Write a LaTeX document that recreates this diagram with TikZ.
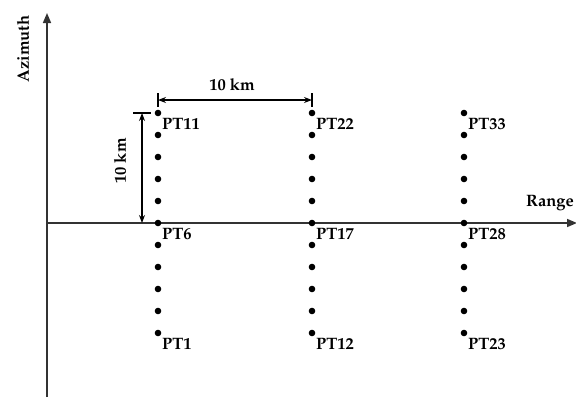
\documentclass[tikz,border=0pt]{standalone}
\usepackage[T1]{fontenc}
\usepackage{mathpazo}
\usetikzlibrary{arrows.meta}
\begin{document}
\begin{tikzpicture}[x=1pt,y=-1pt,
  lbl/.style={font=\fontsize{16.5}{19}\selectfont\bfseries, inner sep=0pt},
  dot/.style={circle,fill=black,inner sep=0pt,minimum size=6.6pt},
  axis/.style={line width=1.5pt, draw=black!80, -{Triangle[length=10pt,width=8pt]}},
  dim/.style={line width=1.2pt, {Stealth[length=8pt,width=6pt]}-{Stealth[length=8pt,width=6pt]}},
  tick/.style={line width=1.2pt}]
\useasboundingbox (0,0) rectangle (576,397);
\coordinate (ybot) at (47,397);
\coordinate (yend) at (47,13);
\coordinate (O) at (47,223);
\coordinate (xend) at (577,223);
\draw[axis] (ybot) -- (yend);
\draw[axis] (O) -- (xend);
\foreach \c/\x in {1/158,2/312,3/464}{
  \foreach \r in {0,...,10}{
    \node[dot] (d\c-\r) at (\x,333-22*\r) {};
  }
}
\foreach \c in {1,2,3}{
  \foreach \r in {0,5,10}{
    \pgfmathtruncatemacro{\n}{11*(\c-1)+\r+1}
    \node[lbl, anchor=north west] (p\n) at ([xshift=4pt,yshift=-5pt]d\c-\r.center) {PT\n};
  }
}
% horizontal dimension
\coordinate (h1a) at (158,93); \coordinate (h1b) at (158,107);
\coordinate (h2a) at (312,93); \coordinate (h2b) at (312,107);
\coordinate (hl) at (158,100); \coordinate (hr) at (312,100);
\draw[tick] (h1a) -- (h1b);
\draw[tick] (h2a) -- (h2b);
\draw[dim] (hl) -- (hr);
\node[lbl] (hkm) at (232,85) {10 km};
% vertical dimension
\coordinate (v1a) at (133,113); \coordinate (v1b) at (151,113);
\coordinate (vt) at (142,113); \coordinate (vb) at (142,223);
\draw[tick] (v1a) -- (v1b);
\draw[dim] (vt) -- (vb);
\node[lbl, rotate=90] (vkm) at (120,161) {10 km};
% axis labels
\node[lbl, rotate=90] (az) at (23,49) {Azimuth};
\node[lbl] (rg) at (550,203) {Range};
\end{tikzpicture}
\end{document}
